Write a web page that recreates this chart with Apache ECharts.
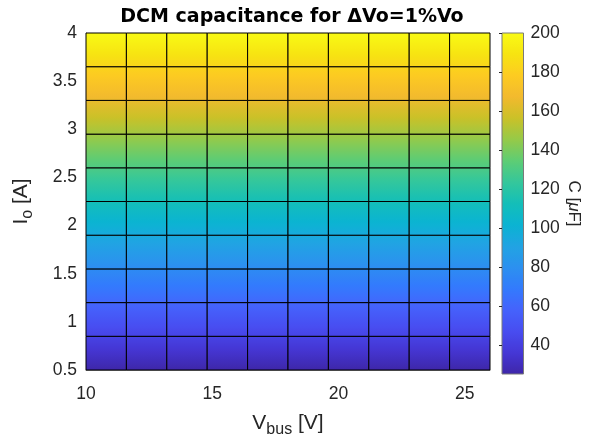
<!DOCTYPE html>
<html>
<head>
<meta charset="utf-8">
<script src="https://cdn.jsdelivr.net/npm/echarts@6/dist/echarts.min.js"></script>
<style>
  html, body { margin: 0; padding: 0; background: #fff; }
  #chart { width: 594px; height: 443px; }
</style>
</head>
<body>
<div id="chart"></div>
<script>
// Grid of bus voltages (columns) and output currents (rows)
const vbusLevels = [10, 11.6, 13.2, 14.8, 16.4, 18, 19.6, 21.2, 22.8, 24.4, 26];
const ioLevels = [0.5, 0.85, 1.2, 1.55, 1.9, 2.25, 2.6, 2.95, 3.3, 3.65, 4];

// Required DCM capacitance in uF, one row per Io level, one column per Vbus level
const capValues = [
  [25, 25, 25, 25, 25, 25, 25, 25, 25, 25, 25],
  [42.5, 42.5, 42.5, 42.5, 42.5, 42.5, 42.5, 42.5, 42.5, 42.5, 42.5],
  [60, 60, 60, 60, 60, 60, 60, 60, 60, 60, 60],
  [77.5, 77.5, 77.5, 77.5, 77.5, 77.5, 77.5, 77.5, 77.5, 77.5, 77.5],
  [95, 95, 95, 95, 95, 95, 95, 95, 95, 95, 95],
  [112.5, 112.5, 112.5, 112.5, 112.5, 112.5, 112.5, 112.5, 112.5, 112.5, 112.5],
  [130, 130, 130, 130, 130, 130, 130, 130, 130, 130, 130],
  [147.5, 147.5, 147.5, 147.5, 147.5, 147.5, 147.5, 147.5, 147.5, 147.5, 147.5],
  [165, 165, 165, 165, 165, 165, 165, 165, 165, 165, 165],
  [182.5, 182.5, 182.5, 182.5, 182.5, 182.5, 182.5, 182.5, 182.5, 182.5, 182.5],
  [200, 200, 200, 200, 200, 200, 200, 200, 200, 200, 200]
];

// Tick labels
const vbusTicks = [10, 15, 20, 25];
const ioTicks = [0.5, 1, 1.5, 2, 2.5, 3, 3.5, 4];
const capTicks = [40, 60, 80, 100, 120, 140, 160, 180, 200];

// Parula-like colormap key colours (evenly spaced)
const parulaKeys = [
  [0.2422, 0.1504, 0.6603], [0.2704, 0.2138, 0.8346], [0.2813, 0.2985, 0.9397],
  [0.2710, 0.3860, 0.9898], [0.2006, 0.4803, 0.9906], [0.1716, 0.5655, 0.9393],
  [0.1288, 0.6408, 0.8910], [0.0433, 0.7039, 0.8242], [0.0770, 0.7468, 0.7224],
  [0.2061, 0.7808, 0.6065], [0.3671, 0.8021, 0.4563], [0.5886, 0.7913, 0.2833],
  [0.7945, 0.7554, 0.1566], [0.9523, 0.7284, 0.1803], [0.9910, 0.7974, 0.1302],
  [0.9677, 0.8952, 0.0684], [0.9769, 0.9839, 0.0805]
];

let cMin = Infinity, cMax = -Infinity;
capValues.forEach(r => r.forEach(v => { cMin = Math.min(cMin, v); cMax = Math.max(cMax, v); }));

function parula(t) {
  t = Math.max(0, Math.min(1, t));
  const n = parulaKeys.length - 1;
  const f = t * n;
  const k = Math.min(n - 1, Math.floor(f));
  const u = f - k;
  const a = parulaKeys[k], b = parulaKeys[k + 1];
  const c = a.map((v, idx) => Math.round(255 * (v + (b[idx] - v) * u)));
  return 'rgb(' + c.join(',') + ')';
}
function colorOf(v) { return parula((v - cMin) / (cMax - cMin)); }

// Vertical gradient stops from a top value to a bottom value (interpolated shading)
function gradientStops(vTop, vBot, n) {
  const stops = [];
  for (let k = 0; k <= n; k++) {
    const f = k / n;
    stops.push({ offset: f, color: colorOf(vTop + (vBot - vTop) * f) });
  }
  return stops;
}

// One data item per mesh face: [vbus left, io bottom, column index, row index]
const cells = [];
for (let j = 0; j < ioLevels.length - 1; j++) {
  for (let i = 0; i < vbusLevels.length - 1; i++) {
    cells.push([vbusLevels[i], ioLevels[j], i, j]);
  }
}

function renderCell(params, api) {
  const i = api.value(2), j = api.value(3);
  const p0 = api.coord([vbusLevels[i], ioLevels[j + 1]]);
  const p1 = api.coord([vbusLevels[i + 1], ioLevels[j]]);
  const cTop = (capValues[j + 1][i] + capValues[j + 1][i + 1]) / 2;
  const cBot = (capValues[j][i] + capValues[j][i + 1]) / 2;
  return {
    type: 'rect',
    shape: { x: p0[0], y: p0[1], width: p1[0] - p0[0], height: p1[1] - p0[1] },
    style: {
      fill: new echarts.graphic.LinearGradient(0, 0, 0, 1, gradientStops(cTop, cBot, 10)),
      stroke: '#000',
      lineWidth: 1
    }
  };
}

function renderColorbar(params, api) {
  const p0 = api.coord([0, cMax]);
  const p1 = api.coord([1, cMin]);
  return {
    type: 'rect',
    shape: { x: p0[0], y: p0[1], width: p1[0] - p0[0], height: p1[1] - p0[1] },
    style: {
      fill: new echarts.graphic.LinearGradient(0, 0, 0, 1, gradientStops(cMax, cMin, 64)),
      stroke: '#7a7a7a',
      lineWidth: 1
    }
  };
}

const FONT = '"Liberation Sans", Arial, Helvetica, sans-serif';
const TXT = '#262626';

const chart = echarts.init(document.getElementById('chart'));
chart.setOption({
  animation: false,
  backgroundColor: '#fff',
  title: {
    text: 'DCM capacitance for \u0394Vo=1%Vo',
    left: 287, top: 3, textAlign: 'center',
    textStyle: { fontFamily: '"DejaVu Sans", sans-serif', fontSize: 19, fontWeight: 'bold', color: '#000' }
  },
  grid: [
    { left: 86, right: 104, top: 33, bottom: 69 },
    { left: 502, width: 21.5, top: 33, bottom: 69 }
  ],
  xAxis: [
    {
      gridIndex: 0, type: 'value', min: 10, max: 26, interval: 5,
      axisLine: { show: true, lineStyle: { color: '#8c8c8c', width: 1 } },
      axisTick: { show: false },
      splitLine: { show: false },
      axisLabel: {
        fontFamily: FONT, fontSize: 17.5, color: TXT, margin: 15,
        customValues: vbusTicks
      },
      name: '{m|V}{s|bus}{m| [V]}',
      nameLocation: 'middle', nameGap: 38,
      nameTextStyle: {
        rich: {
          m: { fontFamily: FONT, fontSize: 21, color: TXT },
          s: { fontFamily: FONT, fontSize: 16, color: TXT, padding: [14, 0, 0, 0] }
        }
      }
    },
    { gridIndex: 1, type: 'value', min: 0, max: 1, show: false }
  ],
  yAxis: [
    {
      gridIndex: 0, type: 'value', min: 0.5, max: 4, interval: 0.5,
      axisLine: { show: true, lineStyle: { color: '#8c8c8c', width: 1 } },
      axisTick: { show: false },
      splitLine: { show: false },
      axisLabel: {
        fontFamily: FONT, fontSize: 17.5, color: TXT, margin: 9,
        customValues: ioTicks
      },
      name: '{m|I}{s|o}{m| [A]}',
      nameLocation: 'middle', nameGap: 50, nameRotate: 90,
      nameTextStyle: {
        rich: {
          m: { fontFamily: FONT, fontSize: 21, color: TXT },
          s: { fontFamily: FONT, fontSize: 16, color: TXT, padding: [14, 0, 0, 0] }
        }
      }
    },
    {
      gridIndex: 1, type: 'value', min: cMin, max: cMax, position: 'right', z: 5,
      axisLine: { show: false },
      axisTick: {
        show: true, inside: true, length: 3,
        lineStyle: { color: TXT, width: 1 },
        customValues: capTicks
      },
      splitLine: { show: false },
      axisLabel: {
        fontFamily: FONT, fontSize: 17.5, color: TXT, margin: 7,
        customValues: capTicks
      },
      name: '{m|C [}{i|\u03bc}{m|F]}',
      nameLocation: 'middle', nameGap: 42, nameRotate: -90,
      nameTextStyle: {
        rich: {
          m: { fontFamily: FONT, fontSize: 17, color: TXT },
          i: { fontFamily: FONT, fontSize: 17, color: TXT, fontStyle: 'italic' }
        }
      }
    }
  ],
  series: [
    {
      type: 'custom', xAxisIndex: 0, yAxisIndex: 0,
      renderItem: renderCell,
      data: cells,
      z: 2
    },
    {
      type: 'custom', xAxisIndex: 1, yAxisIndex: 1,
      renderItem: renderColorbar,
      data: [[0, cMin]],
      z: 2
    }
  ]
});
</script>
</body>
</html>
